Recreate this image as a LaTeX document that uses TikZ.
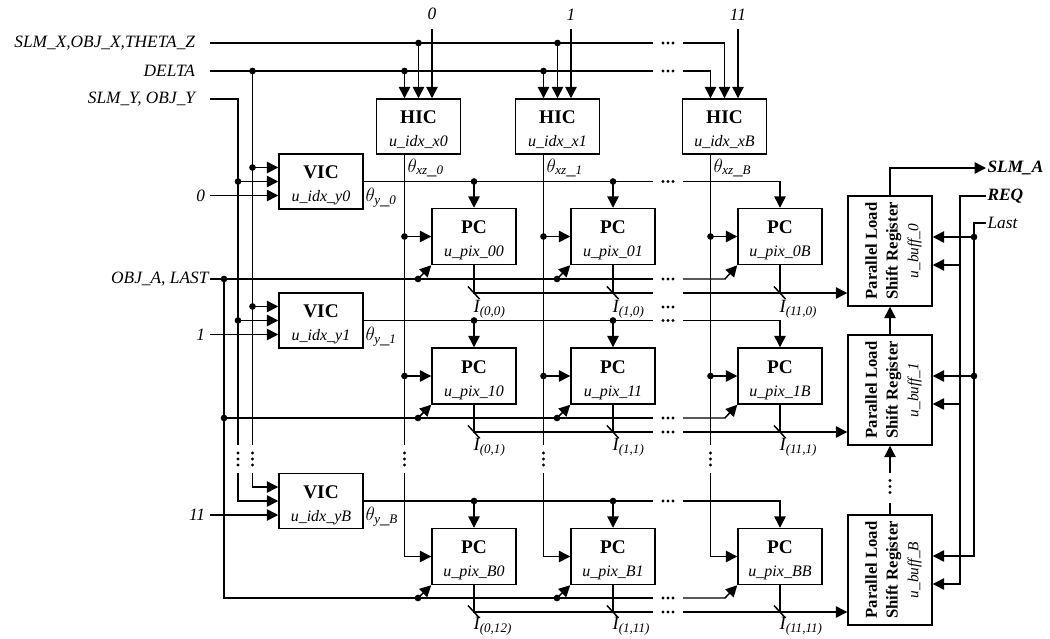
\documentclass[tikz,border=0pt]{standalone}
\usepackage{fontspec}
\setmainfont{Liberation Serif}
\usepackage{graphicx}
\usetikzlibrary{arrows.meta}

% junction dot, bus slash, gap dots and block texts
\newcommand{\junc}[1]{\fill (#1) circle[radius=2.5pt];}
\newcommand{\busmark}[1]{\draw[wire] (#1) ++(-6,-6.5) -- ++(11.5,12.5);}
\newcommand{\hgap}[1]{\fill (#1) ++(-5,0) circle[radius=1.15pt] ++(5,0) circle[radius=1.15pt] ++(5,0) circle[radius=1.15pt];}
\newcommand{\vgap}[1]{\fill (#1) ++(0,-6) circle[radius=1.15pt] ++(0,6) circle[radius=1.15pt] ++(0,6) circle[radius=1.15pt];}
\newcommand{\blktxt}[2]{\raisebox{-3.2pt}[\height][\depth]{\fontsize{12}{17}\selectfont
  \begin{tabular}{@{}c@{}}{\fontsize{14.5}{17}\selectfont\bfseries #1}\\\itshape #2\end{tabular}}}
\newcommand{\regtxt}[1]{\rotatebox{90}{\raisebox{-2.6pt}[\height][\depth]{\fontsize{12.5}{15.5}\selectfont
  \begin{tabular}{@{}c@{}}\bfseries Parallel Load\\\bfseries Shift Register\\
  \itshape\fontsize{11.5}{15.5}\selectfont #1\end{tabular}}}}

\tikzset{
  wire/.style={line width=1.1pt},
  sig/.style={wire, -{Triangle[length=8.5pt,width=8.5pt]}},
  blk/.style={draw, line width=1.1pt, inner sep=0pt, minimum width=63pt},
  hicbox/.style={blk, minimum height=41.25pt},
  vicbox/.style={blk, minimum height=41.25pt},
  pcbox/.style={blk, minimum height=42pt},
  regbox/.style={blk, minimum height=82.5pt},
  lbl/.style={font=\itshape\fontsize{13}{15}\selectfont, inner sep=1pt},
  boldlbl/.style={lbl, font=\bfseries\itshape\fontsize{13}{15}\selectfont},
  toplbl/.style={lbl, anchor=south, inner ysep=6.5pt},
  thlbl/.style={lbl, anchor=west, font=\fontsize{14}{15}\selectfont},
  ilbl/.style={lbl, anchor=west, font=\itshape\fontsize{14}{15}\selectfont},
}

\begin{document}
\begin{tikzpicture}[x=0.75pt, y=-0.75pt]
    \useasboundingbox (0,0) rectangle (1050,639);

    % Define the blocks
    \node[hicbox] (hic0) at (418.5,126.5) {\blktxt{HIC}{u\_idx\_x0}};
    \node[hicbox] (hic1) at (557.5,126.5) {\blktxt{HIC}{u\_idx\_x1}};
    \node[hicbox] (hicB) at (724.5,126.5) {\blktxt{HIC}{u\_idx\_xB}};

    \node[vicbox] (vic0) at (321,181.5) {\blktxt{VIC}{u\_idx\_y0}};
    \node[vicbox] (vic1) at (321,320.5) {\blktxt{VIC}{u\_idx\_y1}};
    \node[vicbox] (vicB) at (321,501) {\blktxt{VIC}{u\_idx\_yB}};

    \node[pcbox] (pc00) at (474,236.5) {\blktxt{PC}{u\_pix\_00}};
    \node[pcbox] (pc01) at (613,236.5) {\blktxt{PC}{u\_pix\_01}};
    \node[pcbox] (pc0B) at (780,236.5) {\blktxt{PC}{u\_pix\_0B}};
    \node[pcbox] (pc10) at (474,376) {\blktxt{PC}{u\_pix\_10}};
    \node[pcbox] (pc11) at (613,376) {\blktxt{PC}{u\_pix\_11}};
    \node[pcbox] (pc1B) at (780,376) {\blktxt{PC}{u\_pix\_1B}};
    \node[pcbox] (pcB0) at (474,556.5) {\blktxt{PC}{u\_pix\_B0}};
    \node[pcbox] (pcB1) at (613,556.5) {\blktxt{PC}{u\_pix\_B1}};
    \node[pcbox] (pcBB) at (780,556.5) {\blktxt{PC}{u\_pix\_BB}};

    \node[regbox] (reg0) at (890,251) {\regtxt{u\_buff\_0}};
    \node[regbox] (reg1) at (890,390) {\regtxt{u\_buff\_1}};
    \node[regbox] (regB) at (890,570) {\regtxt{u\_buff\_B}};

    % Input labels
    \node[lbl, anchor=east, inner xsep=11pt] (inx) at (210,43) {SLM\_X,OBJ\_X,THETA\_Z};
    \node[lbl, anchor=east, inner xsep=11pt] (indelta) at (210,71) {DELTA};
    \node[lbl, anchor=east, inner xsep=11pt] (iny) at (210,99) {SLM\_Y, OBJ\_Y};
    \node[lbl, anchor=east] (inobj) at (210,279) {OBJ\_A, LAST};
    \node[toplbl] (n0) at (432,29) {0};
    \node[toplbl] (n1) at (571,29) {1};
    \node[toplbl] (n11) at (738,29) {11};
    \node[lbl, anchor=east, inner xsep=3.5pt] (v0) at (210,195.5) {0};
    \node[lbl, anchor=east, inner xsep=3.5pt] (v1) at (210,334.5) {1};
    \node[lbl, anchor=east, inner xsep=3.5pt] (v11) at (210,515) {11};

    % Define the bus points
    \coordinate (x0) at (418.5,43);
    \coordinate (x1) at (557.5,43);
    \coordinate (xB) at (724.5,43);
    \coordinate (d0) at (404.5,71);
    \coordinate (d1) at (543.5,71);
    \coordinate (dB) at (710.5,71);
    \coordinate (dv) at (252.5,71);
    \coordinate (yv) at (238,99);
    \coordinate (ov) at (224,279);
    \coordinate (z0) at (404.5,154);
    \coordinate (z1) at (543.5,154);
    \coordinate (zB) at (710.5,154);

    % HIC inputs
    \draw[wire] (inx.east) -- (653,43);
    \draw[sig] (683,43) -- (xB) -- (hicB.north);
    \draw[sig] (x0) -- (hic0.north);
    \draw[sig] (x1) -- (hic1.north);
    \draw[wire] (indelta.east) -- (653,71);
    \draw[sig] (683,71) -- (dB) -- (dB |- hicB.north);
    \draw[sig] (d0) -- (d0 |- hic0.north);
    \draw[sig] (d1) -- (d1 |- hic1.north);
    \draw[sig] (n0.south) -- (n0.south |- hic0.north);
    \draw[sig] (n1.south) -- (n1.south |- hic1.north);
    \draw[sig] (n11.south) -- (n11.south |- hicB.north);
    \junc{x0} \junc{x1} \junc{d0} \junc{d1} \junc{dv}
    \hgap{668,43} \hgap{668,71}

    % VIC inputs
    \draw[wire] (iny.east) -- (yv) -- (238,445);
    \draw[sig] (238,473) |- (vicB.west);
    \draw[sig] (238,181.5) -- (vic0.west);
    \draw[sig] (238,320.5) -- (vic1.west);
    \draw[wire] (dv) -- (252.5,445);
    \draw[sig] (252.5,473) |- ([yshift=10.5pt]vicB.west);
    \draw[sig] (252.5,167.5) -- ([yshift=10.5pt]vic0.west);
    \draw[sig] (252.5,306.5) -- ([yshift=10.5pt]vic1.west);
    \draw[sig] (v0.east) -- ([yshift=-10.5pt]vic0.west);
    \draw[sig] (v1.east) -- ([yshift=-10.5pt]vic1.west);
    \draw[sig] (v11.east) -- ([yshift=-10.5pt]vicB.west);
    \junc{238,181.5} \junc{238,320.5} \junc{252.5,167.5} \junc{252.5,306.5}
    \vgap{238,459} \vgap{252.5,459}

    % VIC outputs to the PC rows
    \draw[wire] (vic0.east) -- (653,181.5);
    \draw[sig] (683,181.5) -| (pc0B.north);
    \draw[sig] (pc00.north |- vic0.east) -- (pc00.north);
    \draw[sig] (pc01.north |- vic0.east) -- (pc01.north);
    \draw[wire] (vic1.east) -- (653,320.5);
    \draw[sig] (683,320.5) -| (pc1B.north);
    \draw[sig] (pc10.north |- vic1.east) -- (pc10.north);
    \draw[sig] (pc11.north |- vic1.east) -- (pc11.north);
    \draw[wire] (vicB.east) -- (653,501);
    \draw[sig] (683,501) -| (pcBB.north);
    \draw[sig] (pcB0.north |- vicB.east) -- (pcB0.north);
    \draw[sig] (pcB1.north |- vicB.east) -- (pcB1.north);
    \junc{pc00.north |- vic0.east} \junc{pc01.north |- vic0.east}
    \junc{pc10.north |- vic1.east} \junc{pc11.north |- vic1.east}
    \junc{pcB0.north |- vicB.east} \junc{pcB1.north |- vicB.east}
    \hgap{668,181.5} \hgap{668,320.5} \hgap{668,501}
    \node[thlbl] (ty0) at (364,198) {$\theta_{\mathit{y\_0}}$};
    \node[thlbl] (ty1) at (364,337) {$\theta_{\mathit{y\_1}}$};
    \node[thlbl] (tyB) at (364,517) {$\theta_{\mathit{y\_B}}$};

    % HIC outputs to the PC columns
    \draw[wire] (z0) -- (404.5,445);
    \draw[sig] (404.5,473) |- (pcB0.west);
    \draw[sig] (z0 |- pc00.west) -- (pc00.west);
    \draw[sig] (z0 |- pc10.west) -- (pc10.west);
    \draw[wire] (z1) -- (543.5,445);
    \draw[sig] (543.5,473) |- (pcB1.west);
    \draw[sig] (z1 |- pc01.west) -- (pc01.west);
    \draw[sig] (z1 |- pc11.west) -- (pc11.west);
    \draw[wire] (zB) -- (710.5,445);
    \draw[sig] (710.5,473) |- (pcBB.west);
    \draw[sig] (zB |- pc0B.west) -- (pc0B.west);
    \draw[sig] (zB |- pc1B.west) -- (pc1B.west);
    \junc{z0 |- pc00.west} \junc{z0 |- pc10.west}
    \junc{z1 |- pc01.west} \junc{z1 |- pc11.west}
    \junc{zB |- pc0B.west} \junc{zB |- pc1B.west}
    \vgap{404.5,459} \vgap{543.5,459} \vgap{710.5,459}
    \node[thlbl] (txz0) at (406,168) {$\theta_{\mathit{xz\_0}}$};
    \node[thlbl] (txz1) at (545,168) {$\theta_{\mathit{xz\_1}}$};
    \node[thlbl] (txzB) at (712,168) {$\theta_{\mathit{xz\_B}}$};

    % OBJ_A, LAST lines
    \draw[wire] (inobj.east) -- (653,279);
    \draw[sig] (683,279) -- (725,279) -- (pc0B.south west);
    \draw[wire] (224,418) -- (653,418);
    \draw[sig] (683,418) -- (725,418) -- (pc1B.south west);
    \draw[wire] (ov) -- (224,598) -- (653,598);
    \draw[sig] (683,598) -- (725,598) -- (pcBB.south west);
    \draw[sig] (418,279) -- (pc00.south west);
    \draw[sig] (557,279) -- (pc01.south west);
    \draw[sig] (418,418) -- (pc10.south west);
    \draw[sig] (557,418) -- (pc11.south west);
    \draw[sig] (418,598) -- (pcB0.south west);
    \draw[sig] (557,598) -- (pcB1.south west);
    \junc{ov} \junc{224,418}
    \junc{418,279} \junc{557,279} \junc{418,418} \junc{557,418} \junc{418,598} \junc{557,598}
    \hgap{668,279} \hgap{668,418} \hgap{668,598}

    % PC outputs to the registers
    \coordinate (b0) at (683,293);
    \coordinate (b1) at (683,432);
    \coordinate (bB) at (683,612);
    \draw[wire] (pc00.south) -- (474,293) -- (653,293);
    \draw[wire] (pc01.south) -- (613,293);
    \draw[wire] (pc0B.south) -- (780,293);
    \draw[sig] (b0) -- (b0 -| reg0.west);
    \draw[wire] (pc10.south) -- (474,432) -- (653,432);
    \draw[wire] (pc11.south) -- (613,432);
    \draw[wire] (pc1B.south) -- (780,432);
    \draw[sig] (b1) -- (b1 -| reg1.west);
    \draw[wire] (pcB0.south) -- (474,612) -- (653,612);
    \draw[wire] (pcB1.south) -- (613,612);
    \draw[wire] (pcBB.south) -- (780,612);
    \draw[sig] (bB) -- (bB -| regB.west);
    \busmark{474,293} \busmark{613,293} \busmark{780,293}
    \busmark{474,432} \busmark{613,432} \busmark{780,432}
    \busmark{474,612} \busmark{613,612} \busmark{780,612}
    \hgap{668,307} \hgap{668,432} \hgap{668,612}
    \node[ilbl] (p00) at (472,309) {I\textsubscript{(0,0)}};
    \node[ilbl] (p10) at (611,309) {I\textsubscript{(1,0)}};
    \node[ilbl] (pB0) at (778,309) {I\textsubscript{(11,0)}};
    \node[ilbl] (p01) at (472,447) {I\textsubscript{(0,1)}};
    \node[ilbl] (p11) at (611,447) {I\textsubscript{(1,1)}};
    \node[ilbl] (pB1) at (778,447) {I\textsubscript{(11,1)}};
    \node[ilbl] (p0B) at (472,626) {I\textsubscript{(0,12)}};
    \node[ilbl] (p1B) at (611,626) {I\textsubscript{(1,11)}};
    \node[ilbl] (pBB) at (778,626) {I\textsubscript{(11,11)}};

    % Register chain and control
    \draw[sig] (reg1.north) -- (reg0.south);
    \draw[wire] (regB.north) -- (890,503);
    \draw[sig] (890,473) -- (reg1.south);
    \vgap{890,486.5}
    \node[boldlbl, anchor=west] (outa) at (986,168) {SLM\_A};
    \node[boldlbl, anchor=west] (inreq) at (986,196) {REQ};
    \node[lbl, anchor=west] (inlast) at (986,223) {Last};
    \coordinate (rq) at (960,196);
    \coordinate (ls) at (974,223);
    \draw[sig] (reg0.north) |- (outa.west);
    \draw[sig] (inreq.west) -- (rq) |- ([yshift=-10.5pt]regB.east);
    \draw[sig] (960,265) -- ([yshift=-10.5pt]reg0.east);
    \draw[sig] (960,404) -- ([yshift=-10.5pt]reg1.east);
    \draw[sig] (inlast.west) -- (ls) |- ([yshift=10.5pt]regB.east);
    \draw[sig] (974,237) -- ([yshift=10.5pt]reg0.east);
    \draw[sig] (974,376) -- ([yshift=10.5pt]reg1.east);
    \junc{974,237} \junc{974,376}
\end{tikzpicture}
\end{document}
